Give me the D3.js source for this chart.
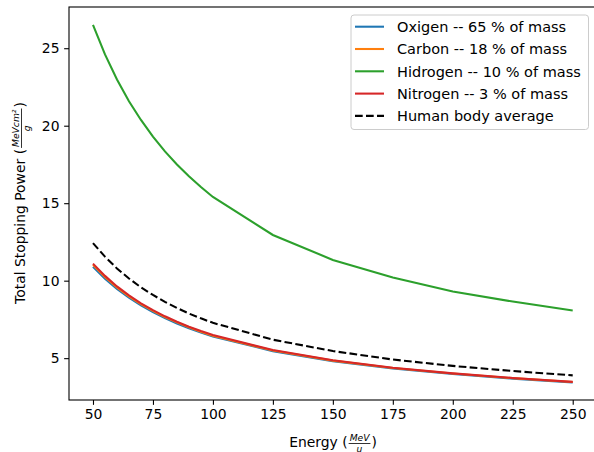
<!DOCTYPE html>
<head>
<meta charset="utf-8">
<script src="https://d3js.org/d3.v7.min.js"></script>
<style>
  body { margin: 0; background: white; }
  text { font-family: "DejaVu Sans", sans-serif; fill: #000; }
</style>
</head>
<body>
<script>
// values
var energy   = [50, 55, 60, 65, 70, 75, 80, 85, 90, 95, 100, 125, 150, 175, 200, 225, 250]
var oxygen   = [10.90, 10.13, 9.47, 8.90, 8.40, 7.97, 7.58, 7.24, 6.93, 6.66, 6.40, 5.45, 4.81, 4.34, 3.98, 3.68, 3.43]
var carbon   = [11.02, 10.24, 9.57, 8.99, 8.49, 8.05, 7.65, 7.31, 6.99, 6.71, 6.45, 5.49, 4.84, 4.37, 4.01, 3.71, 3.46]
var hydrogen = [26.50, 24.60, 22.98, 21.58, 20.37, 19.29, 18.34, 17.50, 16.74, 16.04, 15.40, 12.95, 11.34, 10.20, 9.30, 8.65, 8.08]
var nitrogen = [11.10, 10.31, 9.63, 9.05, 8.54, 8.10, 7.70, 7.35, 7.03, 6.75, 6.49, 5.52, 4.86, 4.38, 4.02, 3.72, 3.47]
var average  = [12.42, 11.55, 10.79, 10.14, 9.57, 9.08, 8.63, 8.24, 7.88, 7.57, 7.28, 6.19, 5.46, 4.91, 4.50, 4.17, 3.89]

var seriesNames = ["Oxigen -- 65 % of mass", "Carbon -- 18 % of mass", "Hidrogen -- 10 % of mass", "Nitrogen -- 3 % of mass", "Human body average"]
var seriesColors = ["#1f77b4", "#ff7f0e", "#2ca02c", "#d62728", "#000000"]
var xTicks = [50, 75, 100, 125, 150, 175, 200, 225, 250]
var yTicks = [5, 10, 15, 20, 25]

var series = [oxygen, carbon, hydrogen, nitrogen, average]

var svg_w = 594, svg_h = 452
var fs = 13.9
var svg = d3.select("body").append("svg")
  .attr("width", svg_w).attr("height", svg_h)

var x = d3.scaleLinear().domain([40, 260]).range([69, 596.7])
var y = d3.scaleLinear().domain([2.3, 27.66]).range([400, 7])

// lines
var line = d3.line()
  .x(function(d) { return x(d[0]) })
  .y(function(d) { return y(d[1]) })

series.forEach(function(vals, i) {
  svg.append("path")
    .datum(energy.map(function(e, j) { return [e, vals[j]] }))
    .attr("d", line)
    .attr("fill", "none")
    .attr("stroke", seriesColors[i])
    .attr("stroke-width", 2.08)
    .attr("stroke-dasharray", i == 4 ? "7.7,3.3" : null)
})

// axes
var xAxis = svg.append("g")
  .attr("transform", "translate(0,400)")
  .call(d3.axisBottom(x).tickValues(xTicks).tickSize(4.86).tickPadding(4.2).tickSizeOuter(0))
var yAxis = svg.append("g")
  .attr("transform", "translate(69,0)")
  .call(d3.axisLeft(y).tickValues(yTicks).tickSize(4.86).tickPadding(4.6).tickSizeOuter(0))
;[xAxis, yAxis].forEach(function(a) {
  a.selectAll("text").attr("font-size", fs).attr("font-family", "DejaVu Sans").attr("fill", "#000")
  a.selectAll("line").attr("stroke", "#000").attr("stroke-width", 1.1)
  a.select(".domain").remove()
})

// frame
svg.append("rect")
  .attr("x", 69).attr("y", 7)
  .attr("width", 596.7 - 69).attr("height", 400 - 7)
  .attr("fill", "none").attr("stroke", "#000").attr("stroke-width", 1.1)

// label with a small fraction in it
function fracLabel(g, before, num, den) {
  var t1 = g.append("text").attr("font-size", fs).text(before)
  var w1 = t1.node().getComputedTextLength()
  var n = g.append("text").attr("font-size", fs * 0.66).attr("font-style", "italic").text(num)
  var d = g.append("text").attr("font-size", fs * 0.66).attr("font-style", "italic").text(den)
  var wn = n.node().getComputedTextLength(), wd = d.node().getComputedTextLength()
  var fw = Math.max(wn, wd) + 2
  var fx = w1 + 1
  n.attr("x", fx + (fw - wn) / 2).attr("y", -5.5)
  d.attr("x", fx + (fw - wd) / 2).attr("y", 5)
  g.append("line").attr("x1", fx).attr("x2", fx + fw)
    .attr("y1", -3).attr("y2", -3).attr("stroke", "#000").attr("stroke-width", 0.8)
  var t2 = g.append("text").attr("font-size", fs).attr("x", fx + fw + 1).text(")")
  return fx + fw + 1 + t2.node().getComputedTextLength()
}

var xl = svg.append("g")
var xw = fracLabel(xl, "Energy (", "MeV", "u")
xl.attr("transform", "translate(" + (333 - xw / 2) + ",446.5)")

var yl = svg.append("g")
var yw = fracLabel(yl, "Total Stopping Power (", "MeVcm\u00b2", "g")
yl.attr("transform", "translate(24.5," + (203 + yw / 2) + ") rotate(-90)")

// legend
var lfs = 14.5
var legend = svg.append("g").attr("transform", "translate(351,15)")
legend.append("rect")
  .attr("width", 237.5).attr("height", 114.5)
  .attr("rx", 3).attr("ry", 3)
  .attr("fill", "white").attr("fill-opacity", 0.8)
  .attr("stroke", "#cccccc").attr("stroke-width", 1)
seriesNames.forEach(function(name, i) {
  var ry = 11.7 + i * 22.3
  legend.append("line")
    .attr("x1", 4).attr("x2", 33).attr("y1", ry).attr("y2", ry)
    .attr("stroke", seriesColors[i]).attr("stroke-width", 2.08)
    .attr("stroke-dasharray", i == 4 ? "7.7,3.3" : null)
  legend.append("text")
    .attr("x", 46).attr("y", ry).attr("dy", "0.36em")
    .attr("font-size", lfs)
    .text(name)
})
</script>
</body>
